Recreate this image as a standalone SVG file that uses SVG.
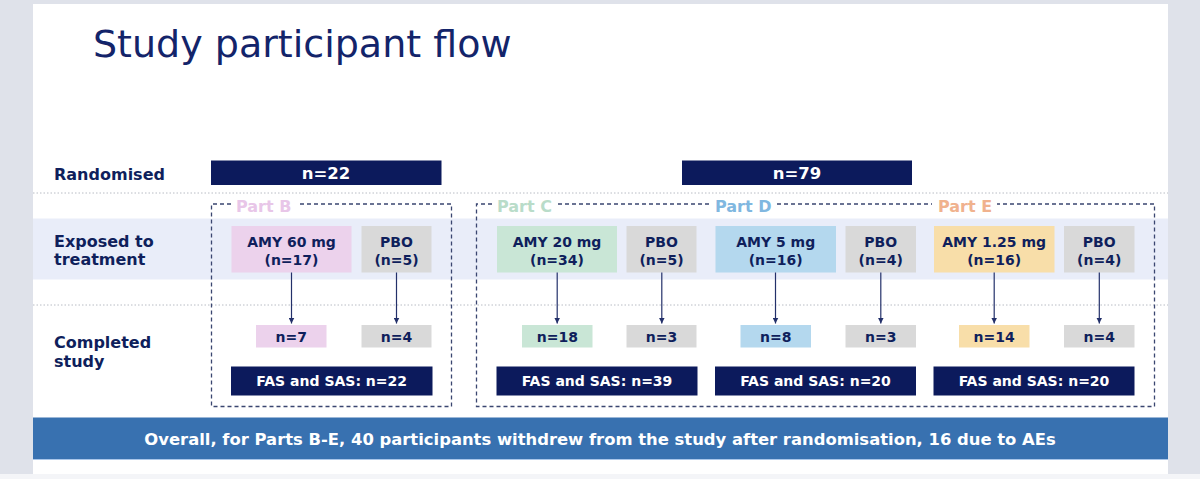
<svg xmlns="http://www.w3.org/2000/svg" width="1200" height="479" viewBox="0 0 1200 479">
<style>
  text { font-family: "DejaVu Sans", Verdana, sans-serif; }
  .title { font-size: 38px; fill: #13246a; }
  .row { font-size: 16px; font-weight: bold; fill: #0f1f5c; }
  .part { font-size: 16px; font-weight: bold; }
  .bt { font-size: 14px; font-weight: bold; fill: #0f1f5c; text-anchor: middle; }
  .wt { font-weight: bold; fill: #ffffff; text-anchor: middle; }
  .navy { fill: #0c1a5c; }
  .gray { fill: #d9d9d9; }
  .pink { fill: #ecd2ec; }
  .green { fill: #c9e6d6; }
  .blue { fill: #b4d8ee; }
  .peach { fill: #f8dea9; }
  .dot { stroke: #b8bcc4; stroke-width: 1; stroke-dasharray: 1.5 2; fill: none; }
  .dash { stroke: #3a4670; stroke-width: 1.3; stroke-dasharray: 4 3; fill: none; }
  .arr { stroke: #23306a; stroke-width: 1.2; fill: none; marker-end: url(#ah); }
</style>
<defs>
  <marker id="ah" viewBox="0 0 10 10" refX="10" refY="5" markerWidth="6" markerHeight="6" markerUnits="userSpaceOnUse" orient="auto">
    <path d="M0,0 L10,5 L0,10 z" fill="#23306a"/>
  </marker>
</defs>

<!-- page background -->
<rect x="0" y="0" width="1200" height="479" fill="#f4f5f8"/>
<rect x="0" y="0" width="1200" height="474" fill="#dfe2ea"/>
<rect x="33" y="4" width="1135" height="470" fill="#ffffff"/>

<text class="title" x="93" y="57">Study participant flow</text>

<!-- rows -->
<rect x="33" y="218.5" width="1135" height="61" fill="#e9edf9"/>
<line class="dot" x1="33" y1="193" x2="1168" y2="193"/>
<line class="dot" x1="33" y1="305" x2="1168" y2="305"/>

<g id="row-labels">
  <text class="row" x="54" y="180">Randomised</text>
  <text class="row" x="54" y="246.5">Exposed to</text>
  <text class="row" x="54" y="265">treatment</text>
  <text class="row" x="54" y="348">Completed</text>
  <text class="row" x="54" y="366.5">study</text>
</g>

<!-- randomised bars -->
<g id="rand-b"><rect class="navy" x="211" y="160.5" width="230.5" height="24.5"/><text class="wt" x="326" y="179" font-size="16.5">n=22</text></g>
<g id="rand-ce"><rect class="navy" x="682" y="160.5" width="230" height="24.5"/><text class="wt" x="797" y="179" font-size="16.5">n=79</text></g>

<!-- part frames -->
<g id="part-b-frame">
  <path class="dash" d="M231,204 H211.5 V406.5 H451.5 V204 H299"/>
  <text class="part" x="236" y="212" fill="#e8c6e8">Part B</text>
</g>
<g id="part-ce-frame">
  <path class="dash" d="M492,204 H476.5 V406.5 H1154.5 V204 H997"/>
  <path class="dash" d="M558,204 H710"/>
  <path class="dash" d="M777,204 H932"/>
  <text class="part" x="497" y="212" fill="#b9dcc9">Part C</text>
  <text class="part" x="715" y="212" fill="#80b7e0">Part D</text>
  <text class="part" x="938" y="212" fill="#f0b28e">Part E</text>
</g>

<!-- exposed boxes -->
<g id="b-amy"><rect class="pink" x="231.5" y="226" width="120" height="46.5"/><text class="bt" x="291.5" y="246.5">AMY 60 mg</text><text class="bt" x="291.5" y="265">(n=17)</text></g>
<g id="b-pbo"><rect class="gray" x="361.5" y="226" width="70" height="46.5"/><text class="bt" x="396.5" y="246.5">PBO</text><text class="bt" x="396.5" y="265">(n=5)</text></g>
<g id="c-amy"><rect class="green" x="497" y="226" width="120" height="46.5"/><text class="bt" x="557" y="246.5">AMY 20 mg</text><text class="bt" x="557" y="265">(n=34)</text></g>
<g id="c-pbo"><rect class="gray" x="626.5" y="226" width="70" height="46.5"/><text class="bt" x="661.5" y="246.5">PBO</text><text class="bt" x="661.5" y="265">(n=5)</text></g>
<g id="d-amy"><rect class="blue" x="715.5" y="226" width="120.5" height="46.5"/><text class="bt" x="775.7" y="246.5">AMY 5 mg</text><text class="bt" x="775.7" y="265">(n=16)</text></g>
<g id="d-pbo"><rect class="gray" x="845.5" y="226" width="70.5" height="46.5"/><text class="bt" x="880.7" y="246.5">PBO</text><text class="bt" x="880.7" y="265">(n=4)</text></g>
<g id="e-amy"><rect class="peach" x="934" y="226" width="120.5" height="46.5"/><text class="bt" x="994.2" y="246.5">AMY 1.25 mg</text><text class="bt" x="994.2" y="265">(n=16)</text></g>
<g id="e-pbo"><rect class="gray" x="1064" y="226" width="70.5" height="46.5"/><text class="bt" x="1099.2" y="246.5">PBO</text><text class="bt" x="1099.2" y="265">(n=4)</text></g>

<!-- completed boxes -->
<g id="b-amy-c"><rect class="pink" x="256" y="325" width="70.5" height="22.5"/><text class="bt" x="291.3" y="341.5">n=7</text></g>
<g id="b-pbo-c"><rect class="gray" x="361.5" y="325" width="70" height="22.5"/><text class="bt" x="396.5" y="341.5">n=4</text></g>
<g id="c-amy-c"><rect class="green" x="522" y="325" width="70.5" height="22.5"/><text class="bt" x="557.3" y="341.5">n=18</text></g>
<g id="c-pbo-c"><rect class="gray" x="626.5" y="325" width="70" height="22.5"/><text class="bt" x="661.5" y="341.5">n=3</text></g>
<g id="d-amy-c"><rect class="blue" x="740.5" y="325" width="70.5" height="22.5"/><text class="bt" x="775.7" y="341.5">n=8</text></g>
<g id="d-pbo-c"><rect class="gray" x="845.5" y="325" width="70.5" height="22.5"/><text class="bt" x="880.7" y="341.5">n=3</text></g>
<g id="e-amy-c"><rect class="peach" x="959" y="325" width="70.5" height="22.5"/><text class="bt" x="994.2" y="341.5">n=14</text></g>
<g id="e-pbo-c"><rect class="gray" x="1064" y="325" width="70.5" height="22.5"/><text class="bt" x="1099.2" y="341.5">n=4</text></g>

<!-- FAS boxes -->
<g id="b-fas"><rect class="navy" x="231" y="366.5" width="201.5" height="29"/><text class="wt" x="331.7" y="386" font-size="14">FAS and SAS: n=22</text></g>
<g id="c-fas"><rect class="navy" x="496.5" y="366.5" width="201" height="29"/><text class="wt" x="597" y="386" font-size="14">FAS and SAS: n=39</text></g>
<g id="d-fas"><rect class="navy" x="715" y="366.5" width="201" height="29"/><text class="wt" x="815.5" y="386" font-size="14">FAS and SAS: n=20</text></g>
<g id="e-fas"><rect class="navy" x="933.5" y="366.5" width="201" height="29"/><text class="wt" x="1034" y="386" font-size="14">FAS and SAS: n=20</text></g>

<!-- connectors -->
<g id="connectors">
  <line class="arr" x1="291.5" y1="272.5" x2="291.5" y2="323.5"/>
  <line class="arr" x1="396.5" y1="272.5" x2="396.5" y2="323.5"/>
  <line class="arr" x1="557.2" y1="272.5" x2="557.2" y2="323.5"/>
  <line class="arr" x1="661.8" y1="272.5" x2="661.8" y2="323.5"/>
  <line class="arr" x1="775.5" y1="272.5" x2="775.5" y2="323.5"/>
  <line class="arr" x1="880.8" y1="272.5" x2="880.8" y2="323.5"/>
  <line class="arr" x1="994.2" y1="272.5" x2="994.2" y2="323.5"/>
  <line class="arr" x1="1099.3" y1="272.5" x2="1099.3" y2="323.5"/>
</g>

<!-- banner -->
<g id="banner">
  <rect x="33" y="417.5" width="1135" height="41.5" fill="#3871b0"/>
  <line x1="33" y1="459.5" x2="1168" y2="459.5" stroke="#a9c6ea" stroke-width="1"/>
  <text class="wt" x="600" y="444.5" font-size="16.4">Overall, for Parts B-E, 40 participants withdrew from the study after randomisation, 16 due to AEs</text>
</g>
</svg>
